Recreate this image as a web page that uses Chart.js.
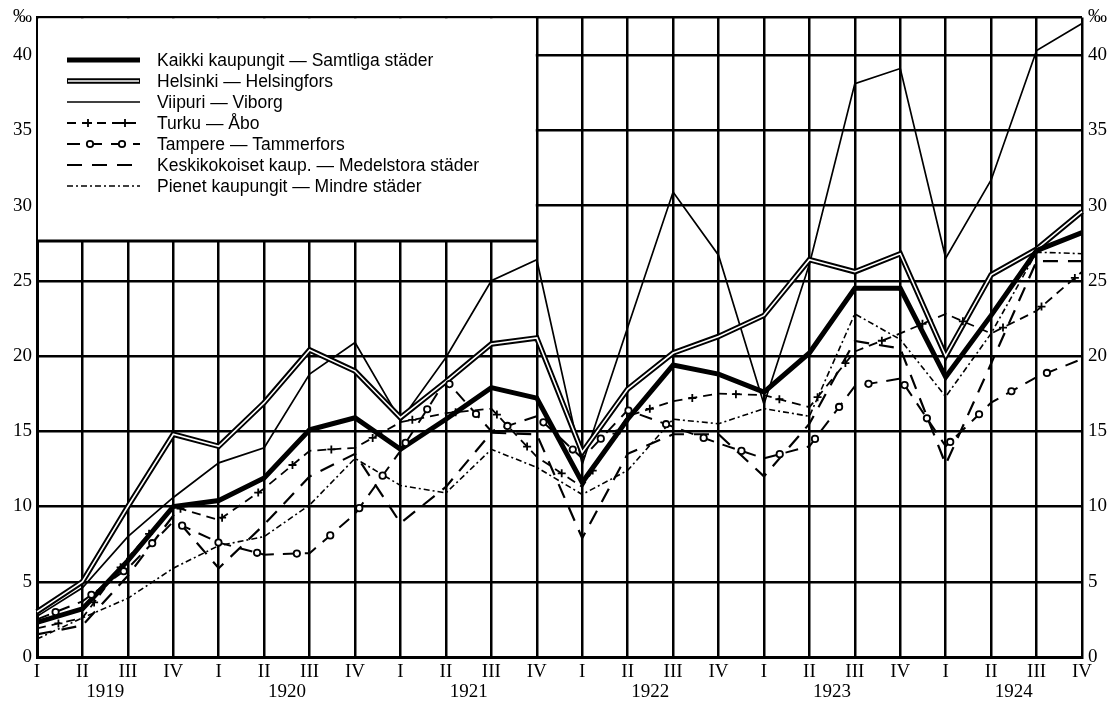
<!DOCTYPE html>
<html>
<head>
<meta charset="utf-8">
<script src="https://cdn.jsdelivr.net/npm/chart.js"></script>
<style>
  html, body { margin: 0; padding: 0; background: #fff; }
  #wrap { width: 1114px; height: 704px; }
</style>
</head>
<body>
<div id="wrap"><canvas id="chart" width="1114" height="704"></canvas></div>
<script>
// quarters 1919 I .. 1924 IV
const quarters = ['I', 'II', 'III', 'IV', 'I', 'II', 'III', 'IV', 'I', 'II', 'III', 'IV',
                  'I', 'II', 'III', 'IV', 'I', 'II', 'III', 'IV', 'I', 'II', 'III', 'IV'];
const years = ['1919', '1920', '1921', '1922', '1923', '1924'];
const yTicks = [0, 5, 10, 15, 20, 25, 30, 35, 40];
const yTop = 42.5;

// ‰ values
const kaikki   = [2.3, 3.2, 6.4, 10.0, 10.4, 11.9, 15.1, 15.9, 13.8, 15.8, 17.9, 17.2,
                  11.6, 15.8, 19.4, 18.8, 17.6, 20.2, 24.5, 24.5, 18.6, 22.7, 27.0, 28.2];
const helsinki = [3.0, 5.0, 10.0, 14.8, 14.0, 16.9, 20.4, 19.0, 15.9, 18.3, 20.8, 21.2,
                  13.6, 17.8, 20.2, 21.3, 22.7, 26.4, 25.6, 26.8, 20.0, 25.4, 27.1, 29.6];
const viipuri  = [2.7, 4.6, 8.0, 10.6, 12.9, 13.9, 18.8, 20.9, 15.7, 19.9, 25.0, 26.4,
                  12.8, 21.9, 30.9, 26.7, 16.8, 26.1, 38.1, 39.1, 26.5, 31.7, 40.3, 42.1];
const turku    = [1.9, 2.6, 6.6, 10.0, 9.1, 11.2, 13.7, 13.9, 15.6, 16.2, 16.5, 13.3,
                  11.3, 16.0, 17.0, 17.5, 17.4, 16.6, 20.3, 21.5, 22.8, 21.5, 23.0, 25.6];
const tampere  = [2.5, 3.7, 5.9, 9.0, 7.6, 6.8, 6.9, 9.5, 13.7, 18.4, 15.0, 16.0,
                  13.2, 16.4, 15.3, 14.2, 13.2, 14.0, 18.0, 18.5, 14.0, 16.9, 18.6, 19.8];
const keski    = [1.5, 2.1, 5.4, 9.4, 5.9, 8.8, 12.0, 13.5, 8.9, 11.3, 14.9, 14.8,
                  7.9, 13.5, 14.8, 14.8, 12.0, 15.5, 21.0, 20.5, 12.8, 19.5, 26.3, 26.3];
const pienet   = [1.2, 2.6, 3.9, 5.9, 7.4, 8.0, 10.1, 13.2, 11.4, 10.9, 13.8, 12.6,
                  10.8, 12.4, 15.8, 15.5, 16.5, 16.0, 22.8, 21.1, 17.3, 21.5, 26.9, 26.8];

const legendNames = [
  'Kaikki kaupungit — Samtliga städer',
  'Helsinki — Helsingfors',
  'Viipuri — Viborg',
  'Turku — Åbo',
  'Tampere — Tammerfors',
  'Keskikokoiset kaup. — Medelstora städer',
  'Pienet kaupungit — Mindre städer'
];

const axisFont = { family: 'Liberation Serif', size: 19 };

function line(data, width, dash, color) {
  return {
    data: data,
    borderColor: color || '#000',
    borderWidth: width,
    borderDash: dash || [],
    pointRadius: 0,
    fill: false,
    tension: 0,
    borderCapStyle: 'butt',
    borderJoinStyle: 'miter'
  };
}

const datasets = [
  Object.assign(line(kaikki, 5), { label: 'kaikki' }),
  Object.assign(line(helsinki, 1.6, [], '#fff'), { label: 'helsinkiInner' }),
  Object.assign(line(helsinki, 5.5), { label: 'helsinki' }),
  Object.assign(line(viipuri, 1.7), { label: 'viipuri' }),
  Object.assign(line(turku, 1.8, [9, 6]), { label: 'turku', marker: 'cross', markerGap: 44 }),
  Object.assign(line(tampere, 2, [13, 9]), { label: 'tampere', marker: 'circle', markerGap: 40 }),
  Object.assign(line(keski, 2.2, [15, 10]), { label: 'keski' }),
  Object.assign(line(pienet, 1.6, [6, 3, 2, 3]), { label: 'pienet' })
];

function drawCross(ctx, x, y) {
  ctx.beginPath();
  ctx.moveTo(x - 4, y); ctx.lineTo(x + 4, y);
  ctx.moveTo(x, y - 4); ctx.lineTo(x, y + 4);
  ctx.stroke();
}
function drawCircle(ctx, x, y) {
  ctx.beginPath();
  ctx.arc(x, y, 3.2, 0, Math.PI * 2);
  ctx.fillStyle = '#fff';
  ctx.fill();
  ctx.stroke();
}

// markers placed along the drawn line, like the printed "+" and "o"
const markerPlugin = {
  id: 'markers',
  afterDatasetsDraw(chart) {
    const ctx = chart.ctx;
    chart.data.datasets.forEach((ds, i) => {
      if (!ds.marker) return;
      const pts = chart.getDatasetMeta(i).data;
      ctx.save();
      ctx.strokeStyle = '#000';
      ctx.lineWidth = 1.8;
      ctx.setLineDash([]);
      let next = ds.markerGap / 2;
      let walked = 0;
      for (let k = 1; k < pts.length; k++) {
        const a = pts[k - 1], b = pts[k];
        const len = Math.hypot(b.x - a.x, b.y - a.y);
        while (next <= walked + len) {
          const t = (next - walked) / len;
          const x = a.x + (b.x - a.x) * t, y = a.y + (b.y - a.y) * t;
          if (ds.marker === 'cross') drawCross(ctx, x, y); else drawCircle(ctx, x, y);
          next += ds.markerGap;
        }
        walked += len;
      }
      ctx.restore();
    });
  }
};

// white legend box over the grid, top left
const legendPlugin = {
  id: 'boxLegend',
  beforeDatasetsDraw(chart) {
    const ctx = chart.ctx;
    const area = chart.chartArea;
    const right = chart.scales.x.getPixelForValue(11);
    const bottom = 241;
    ctx.save();
    ctx.fillStyle = '#fff';
    ctx.fillRect(area.left + 1, area.top + 1, right - area.left - 2, bottom - area.top);
    ctx.strokeStyle = '#000';
    ctx.lineWidth = 3;
    ctx.beginPath();
    ctx.moveTo(area.left, bottom);
    ctx.lineTo(right, bottom);
    ctx.stroke();

    const x0 = 67, x1 = 140, tx = 157;
    const rowTop = 60, rowStep = 21;
    ctx.font = '17.5px "Liberation Sans"';
    ctx.textBaseline = 'middle';
    ctx.fillStyle = '#000';
    const styles = ['kaikki', 'helsinki', 'viipuri', 'turku', 'tampere', 'keski', 'pienet'];
    styles.forEach((name, r) => {
      const y = rowTop + r * rowStep;
      const ds = chart.data.datasets.find(d => d.label === name);
      ctx.setLineDash(ds.borderDash);
      ctx.lineWidth = ds.borderWidth;
      ctx.strokeStyle = '#000';
      ctx.beginPath(); ctx.moveTo(x0, y); ctx.lineTo(x1, y); ctx.stroke();
      if (name === 'helsinki') {
        ctx.lineWidth = 1.6; ctx.strokeStyle = '#fff';
        ctx.beginPath(); ctx.moveTo(x0 + 1, y); ctx.lineTo(x1 - 1, y); ctx.stroke();
      }
      ctx.setLineDash([]);
      ctx.strokeStyle = '#000';
      ctx.lineWidth = 1.8;
      if (name === 'turku') { drawCross(ctx, 88, y); drawCross(ctx, 125, y); }
      if (name === 'tampere') { drawCircle(ctx, 90, y); drawCircle(ctx, 122, y); }
      ctx.fillStyle = '#000';
      ctx.fillText(legendNames[r], tx, y + 1);
    });
    ctx.restore();
  }
};

const yAxis = (pos) => ({
  type: 'linear',
  position: pos,
  min: 0,
  max: yTop,
  afterBuildTicks: s => { s.ticks = yTicks.map(v => ({ value: v })).concat([{ value: yTop }]); },
  ticks: {
    color: '#000',
    font: axisFont,
    padding: pos === 'left' ? 5 : 6,
    callback: v => (v === yTop ? '‰' : String(v))
  },
  grid: pos === 'left'
    ? { color: '#000', lineWidth: 2.5, drawTicks: false }
    : { display: false, drawTicks: false },
  border: pos === 'left' ? { color: '#000', width: 3 } : { display: false },
  afterFit: s => { s.width = pos === 'left' ? 37 : 32; }
});

new Chart(document.getElementById('chart'), {
  type: 'line',
  data: { labels: quarters, datasets: datasets },
  options: {
    responsive: false,
    animation: false,
    devicePixelRatio: 1,
    layout: { padding: { top: 14, left: 0, right: 0, bottom: 0 } },
    plugins: { legend: { display: false }, tooltip: { enabled: false } },
    scales: {
      x: {
        type: 'category',
        offset: false,
        weight: 0,
        grid: { color: '#000', lineWidth: 2.5, drawTicks: false },
        border: { color: '#000', width: 3 },
        ticks: { color: '#000', font: axisFont, padding: 4, autoSkip: false, maxRotation: 0 },
        afterFit: s => { s.height = 24; }
      },
      x2: {
        type: 'linear',
        position: 'bottom',
        weight: 1,
        min: 0,
        max: quarters.length - 1,
        afterBuildTicks: s => { s.ticks = years.map((y, i) => ({ value: i * 4 + 1.5 })); },
        grid: { display: false, drawTicks: false },
        border: { display: false },
        ticks: {
          color: '#000', font: axisFont, padding: 0, autoSkip: false, maxRotation: 0,
          callback: v => years[Math.round((v - 1.5) / 4)]
        },
        afterFit: s => { s.height = 23; }
      },
      y: yAxis('left'),
      y2: yAxis('right')
    }
  },
  plugins: [legendPlugin, markerPlugin]
});
</script>
</body>
</html>
